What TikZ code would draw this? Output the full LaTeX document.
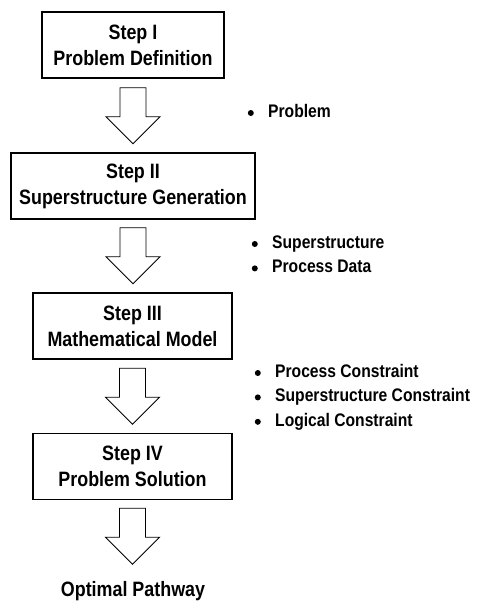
\documentclass[tikz,border=0pt]{standalone}
\usepackage{fontspec}
\setmainfont{Liberation Sans}[FakeStretch=0.86]
\usetikzlibrary{positioning}

\tikzset{
  stepbox/.style={draw, line width=1.5pt, minimum height=66pt, inner sep=2pt,
    align=center, font=\fontsize{20.8}{26}\selectfont\bfseries},
  item/.style={anchor=west, inner sep=0pt, text height=13pt, text depth=4pt,
    font=\fontsize{18.2}{22}\selectfont\bfseries},
  dot/.style={fill, circle, inner sep=0pt, minimum size=6pt},
  blockarrow/.pic={
    \draw[line width=0.9pt, line join=miter]
      (-13,0) -- (-13,29) -- (-27,29) -- (0,56) -- (27,29) -- (13,29) -- (13,0) -- cycle;
  }
}

\begin{document}
\begin{tikzpicture}[x=1pt,y=-1pt, node distance=7pt]
    \useasboundingbox (0,0) rectangle (477,601);

    % the four steps
    \node[stepbox, minimum width=182pt] (s1) at (133,45)    {Step I\\Problem Definition};
    \node[stepbox, minimum width=244pt] (s2) at (133,186)   {Step II\\Superstructure Generation};
    \node[stepbox, minimum width=199pt] (s3) at (132.5,326) {Step III\\Mathematical Model};
    \node[stepbox, minimum width=199pt] (s4) at (132.5,466.5) {Step IV\\Problem Solution};
    \node[font=\fontsize{20.8}{26}\selectfont\bfseries] (out) at (133,591) {Optimal Pathway};

    % big arrows between the steps
    \pic at ([yshift=-9pt]s1.south)   {blockarrow};
    \pic at ([yshift=-8pt]s2.south)   {blockarrow};
    \pic at ([yshift=-8.5pt]s3.south) {blockarrow};
    \pic at ([yshift=-8pt]s4.south)   {blockarrow};

    % what each step hands on
    \node[item] (p1) at (268,113) {Problem};
    \node[item] (p2) at (272,244) {Superstructure};
    \node[item, below=of p2.south west, anchor=north west] (p3) {Process Data};
    \node[item] (p4) at (275,373) {Process Constraint};
    \node[item, below=of p4.south west, anchor=north west] (p5) {Superstructure Constraint};
    \node[item, below=of p5.south west, anchor=north west] (p6) {Logical Constraint};

    \node[dot, left=14pt of p1.west] {};
    \node[dot, left=14pt of p2.west] {};
    \node[dot, left=14pt of p3.west] {};
    \node[dot, left=14pt of p4.west] {};
    \node[dot, left=14pt of p5.west] {};
    \node[dot, left=14pt of p6.west] {};
\end{tikzpicture}
\end{document}
